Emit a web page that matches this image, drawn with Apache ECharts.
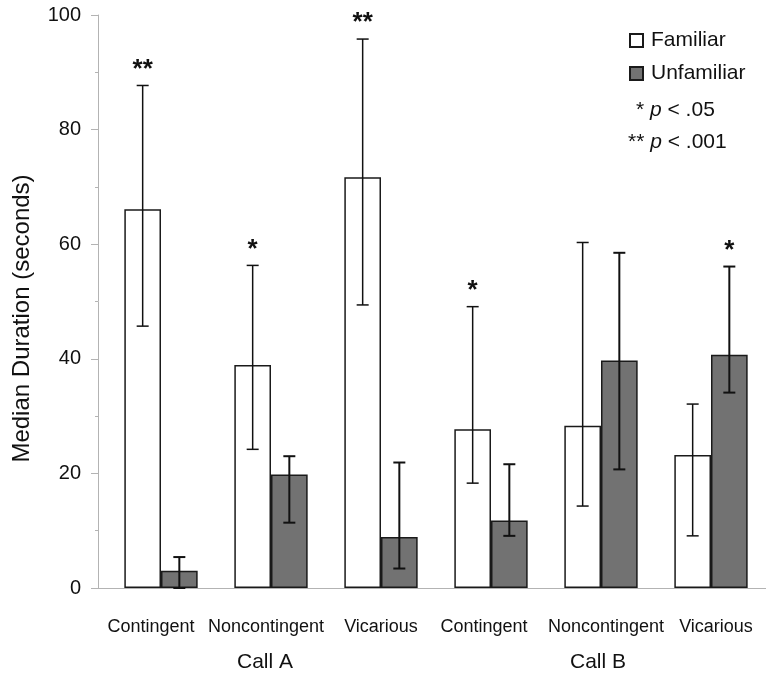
<!DOCTYPE html>
<html>
<head>
<meta charset="utf-8">
<script src="https://cdn.jsdelivr.net/npm/echarts@6/dist/echarts.min.js"></script>
<style>
  html, body { margin: 0; padding: 0; background: #fff; }
  #chart { width: 766px; height: 674px; }
</style>
</head>
<body>
<div id="chart"></div>
<script>
// Conditions (two call types, three playback conditions each)
const categories = ['Contingent', 'Noncontingent', 'Vicarious', 'Contingent', 'Noncontingent', 'Vicarious'];
const callGroups = ['Call A', 'Call B'];

// Median duration (seconds) with error-bar bounds
const familiarMedian = [66.1, 38.9, 71.7, 27.7, 28.3, 23.2];
const familiarLow    = [45.7, 24.2, 49.4, 18.3, 14.3, 9.1];
const familiarHigh   = [87.7, 56.3, 95.8, 49.1, 60.3, 32.1];

const unfamiliarMedian = [3.0, 19.8, 8.9, 11.8, 39.7, 40.7];
const unfamiliarLow    = [0.0, 11.4, 3.4, 9.1, 20.7, 34.1];
const unfamiliarHigh   = [5.4, 23.0, 21.9, 21.6, 58.5, 56.1];

// Significance markers drawn above each bar's error bar
const familiarSig   = ['**', '*', '**', '*', '', ''];
const unfamiliarSig = ['', '', '', '', '', '*'];

const yMin = 0, yMax = 100, yStep = 20;

// Horizontal nudges (px) for the axis label texts
const conditionLabelNudge = [-10, -5, 0, -7, 5, 5];
const groupLabelNudge = [-6, -3];

const FONT = 'Liberation Sans, Arial, Helvetica, sans-serif';
const INK = '#111';
const AXIS_GRAY = '#b3b3b3';
const DARK_FILL = '#727272';

// A centred label moves by half of the extra padding on one side
function nudged(names, nudges) {
  return names.map((n, i) => {
    const d = nudges[i] * 2;
    return { value: n, textStyle: { padding: d >= 0 ? [0, 0, 0, d] : [0, -d, 0, 0] } };
  });
}

// side: -1 = left bar of the pair (Familiar), +1 = right bar (Unfamiliar)
function errorSeries(low, high, side, width) {
  return {
    type: 'custom',
    xAxisIndex: 1,
    yAxisIndex: 1,
    z: 5,
    silent: true,
    data: low.map((v, i) => [i, v, high[i]]),
    renderItem: function (params, api) {
      const idx = api.value(0);
      const lo = api.coord([idx, api.value(1)]);
      const hi = api.coord([idx, api.value(2)]);
      const band = api.size([1, 0])[0];
      const x = lo[0] + side * band / 6;
      const cap = 6;
      const st = { stroke: INK, lineWidth: width };
      return {
        type: 'group',
        children: [
          { type: 'line', shape: { x1: x, y1: lo[1], x2: x, y2: hi[1] }, style: st },
          { type: 'line', shape: { x1: x - cap, y1: hi[1], x2: x + cap, y2: hi[1] }, style: st },
          { type: 'line', shape: { x1: x - cap, y1: lo[1], x2: x + cap, y2: lo[1] }, style: st }
        ]
      };
    }
  };
}

function starSeries(sig, high, side) {
  const rows = [];
  const labels = [];
  sig.forEach((s, i) => { if (s) { rows.push([i, high[i]]); labels.push(s); } });
  return {
    type: 'custom',
    xAxisIndex: 1,
    yAxisIndex: 1,
    z: 6,
    silent: true,
    data: rows,
    renderItem: function (params, api) {
      const p = api.coord([api.value(0), api.value(1)]);
      const band = api.size([1, 0])[0];
      return {
        type: 'text',
        style: {
          text: labels[params.dataIndex],
          x: p[0] + side * band / 6,
          y: p[1] - 16,
          align: 'center',
          verticalAlign: 'middle',
          fontSize: 26,
          fontWeight: 'bold',
          fontFamily: FONT,
          fill: INK
        }
      };
    }
  };
}

const chart = echarts.init(document.getElementById('chart'), null, { renderer: 'canvas' });

const legendText = { fontSize: 21, lineHeight: 32, color: INK, fontFamily: FONT, fontWeight: 'normal' };

chart.setOption({
  backgroundColor: '#fff',
  animation: false,
  textStyle: { fontFamily: FONT, color: INK },
  title: {
    left: 628,
    top: 94,
    padding: 0,
    text: '{one|*} {p|p} {t|< .05}\n{two|**} {p|p} {t|< .001}',
    textStyle: {
      fontWeight: 'normal',
      fontSize: 21,
      lineHeight: 32,
      rich: {
        one: Object.assign({}, legendText, { padding: [0, 0, 0, 8] }),
        two: legendText,
        p: Object.assign({}, legendText, { fontStyle: 'italic' }),
        t: legendText
      }
    }
  },
  legend: {
    orient: 'vertical',
    left: 629,
    top: 30,
    padding: 0,
    itemWidth: 13,
    itemHeight: 13,
    itemGap: 12,
    icon: 'rect',
    selectedMode: false,
    data: ['Familiar', 'Unfamiliar'],
    textStyle: { fontSize: 21, lineHeight: 21, color: INK, fontFamily: FONT, padding: [0, 0, 0, 3] }
  },
  grid: [
    { left: 98, right: 0, top: 15, bottom: 86 },
    { left: 106, right: 0, top: 15, bottom: 86 }
  ],
  xAxis: [
    {
      gridIndex: 0, type: 'value', min: 0, max: 1,
      axisLine: { show: true, onZero: false, lineStyle: { color: AXIS_GRAY, width: 1 } },
      axisTick: { show: false }, axisLabel: { show: false }, splitLine: { show: false }
    },
    {
      gridIndex: 1, type: 'category', data: nudged(categories, conditionLabelNudge),
      axisLine: { show: false }, axisTick: { show: false }, splitLine: { show: false },
      axisLabel: { interval: 0, margin: 30, fontSize: 18, color: INK, fontFamily: FONT }
    },
    {
      gridIndex: 1, type: 'category', data: nudged(callGroups, groupLabelNudge), position: 'bottom',
      axisLine: { show: false }, axisTick: { show: false }, splitLine: { show: false },
      axisLabel: { interval: 0, margin: 64, fontSize: 21, color: INK, fontFamily: FONT }
    }
  ],
  yAxis: [
    {
      gridIndex: 0, type: 'value', min: yMin, max: yMax, interval: yStep,
      name: 'Median Duration (seconds)',
      nameLocation: 'middle',
      nameGap: 64,
      nameTextStyle: { fontSize: 24, color: INK, fontFamily: FONT, padding: [0, 34, 0, 0] },
      axisLine: { show: true, lineStyle: { color: AXIS_GRAY, width: 1 } },
      axisTick: { show: true, length: 7, lineStyle: { color: AXIS_GRAY } },
      minorTick: { show: true, splitNumber: 2, length: 3, lineStyle: { color: AXIS_GRAY } },
      axisLabel: { margin: 17, fontSize: 20, color: INK, fontFamily: FONT },
      splitLine: { show: false }
    },
    {
      gridIndex: 1, type: 'value', min: yMin, max: yMax, interval: yStep, show: false
    }
  ],
  series: [
    {
      name: 'Familiar', type: 'bar', xAxisIndex: 1, yAxisIndex: 1,
      data: familiarMedian,
      barGap: '0%', barCategoryGap: '33.33%',
      itemStyle: { color: '#ffffff', borderColor: '#1a1a1a', borderWidth: 1.5 }
    },
    {
      name: 'Unfamiliar', type: 'bar', xAxisIndex: 1, yAxisIndex: 1,
      data: unfamiliarMedian,
      barGap: '0%', barCategoryGap: '33.33%',
      itemStyle: { color: DARK_FILL, borderColor: '#1a1a1a', borderWidth: 1.5 }
    },
    errorSeries(familiarLow, familiarHigh, -1, 1.5),
    errorSeries(unfamiliarLow, unfamiliarHigh, 1, 2),
    starSeries(familiarSig, familiarHigh, -1),
    starSeries(unfamiliarSig, unfamiliarHigh, 1)
  ]
});
</script>
</body>
</html>
